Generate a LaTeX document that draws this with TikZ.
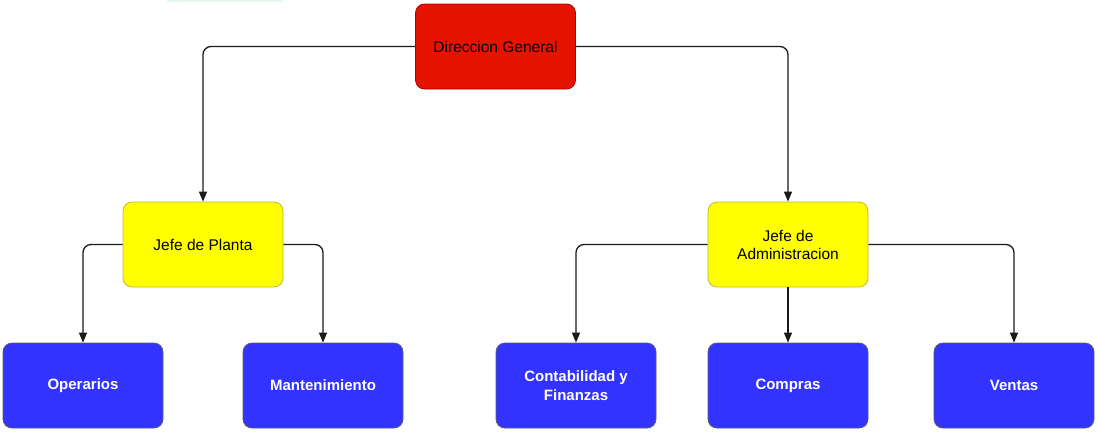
\documentclass[tikz,border=0pt]{standalone}
\usepackage{fontspec}
\setmainfont{Liberation Sans}
\usetikzlibrary{arrows.meta}
\definecolor{rootfill}{HTML}{E51400}
\definecolor{rootline}{HTML}{B20000}
\definecolor{yelfill}{HTML}{FFFF00}
\definecolor{yelline}{HTML}{C9B53A}
\definecolor{bluefill}{HTML}{3333FF}
\definecolor{blueline}{HTML}{5A5A7A}
\definecolor{edgecol}{HTML}{1A1A1A}
\definecolor{mint}{HTML}{E4F7EA}
\tikzset{
  box/.style={rectangle, rounded corners=9pt, minimum width=160pt, minimum height=85pt, align=center, line width=0.8pt, inner sep=2pt},
  rootbox/.style={box, fill=rootfill, draw=rootline, text=black, font=\fontsize{15.5}{18}\selectfont},
  yelbox/.style={box, fill=yelfill, draw=yelline, text=black, font=\fontsize{15.5}{18}\selectfont},
  bluebox/.style={box, fill=bluefill, draw=blueline, text=white, font=\fontsize{15}{18.5}\selectfont\bfseries},
  conn/.style={draw=edgecol, line width=1.3pt, rounded corners=8pt, -{Triangle[length=10pt,width=8pt]}}
}
\begin{document}
\begin{tikzpicture}[x=1pt,y=-1pt]
\useasboundingbox (0,0) rectangle (1100,432);
\fill[mint] (167,0) rectangle (283,1.6);
\node[rootbox] (root) at (495.5,46.5) {Direccion General};
\node[yelbox] (jp) at (203,244.5) {Jefe de Planta};
\node[yelbox] (ja) at (788,244.5) {Jefe de\\Administracion};
\node[bluebox] (op) at (83,385.5) {Operarios};
\node[bluebox] (ma) at (323,385.5) {Mantenimiento};
\node[bluebox] (co) at (576,385.5) {Contabilidad y\\Finanzas};
\node[bluebox] (cp) at (788,385.5) {Compras};
\node[bluebox] (ve) at (1014,385.5) {Ventas};
\draw[conn] (root.west) -| (jp.north);
\draw[conn] (root.east) -| (ja.north);
\draw[conn] (jp.west) -| (op.north);
\draw[conn] (jp.east) -| (ma.north);
\draw[conn] (ja.west) -| (co.north);
\draw[conn] (ja.south) -- (cp.north);
\draw[conn] (ja.east) -| (ve.north);
\end{tikzpicture}
\end{document}
